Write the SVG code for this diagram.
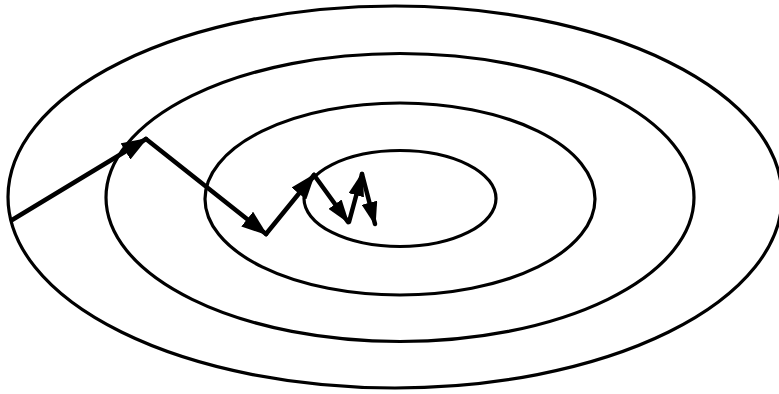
<svg xmlns="http://www.w3.org/2000/svg" width="779" height="394" viewBox="0 0 779 394">
<style>
.contour{fill:none;stroke:#000;stroke-width:3.2}
.step{fill:none;stroke:#000;stroke-width:4.5;stroke-linecap:round;marker-end:url(#ah)}
.step.s{marker-end:url(#ahs)}
</style>
<defs>
<marker id="ah" viewBox="0 0 26 19" refX="24" refY="9.5" markerWidth="26" markerHeight="19" markerUnits="userSpaceOnUse" orient="auto"><path d="M0,0 L26,9.5 L0,19 z" fill="#000"/></marker>
<marker id="ahs" viewBox="0 0 24 16" refX="22" refY="8" markerWidth="24" markerHeight="16" markerUnits="userSpaceOnUse" orient="auto"><path d="M0,0 L24,8 L0,16 z" fill="#000"/></marker>
</defs>
<rect width="779" height="394" fill="#fff"/>
<g id="contour1"><ellipse class="contour" cx="395" cy="197" rx="387" ry="191"/></g>
<g id="contour2"><ellipse class="contour" cx="400" cy="197.5" rx="294" ry="144"/></g>
<g id="contour3"><ellipse class="contour" cx="400" cy="199" rx="195" ry="96"/></g>
<g id="contour4"><ellipse class="contour" cx="400" cy="198.5" rx="96" ry="48"/></g>
<g id="connectors">
<line class="step" x1="12" y1="220" x2="146" y2="139"/>
<line class="step" x1="146" y1="139" x2="266" y2="234"/>
<line class="step" x1="266" y1="234" x2="314" y2="175"/>
<line class="step s" x1="314" y1="175" x2="348" y2="222"/>
<line class="step s" x1="349" y1="222" x2="362" y2="174"/>
<line class="step s" x1="362" y1="174" x2="375" y2="224"/>
</g>
</svg>
